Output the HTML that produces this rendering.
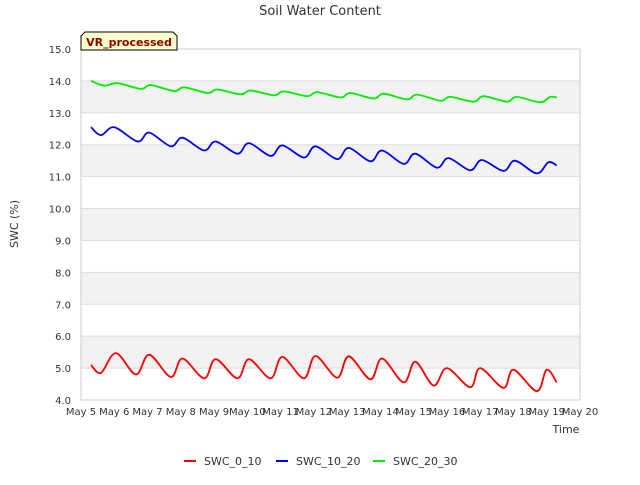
<!DOCTYPE html>
<html><head><meta charset="utf-8"><style>
body{margin:0;background:#fff;font-family:"Liberation Sans","DejaVu Sans",sans-serif}
svg text{font-family:"DejaVu Sans","Liberation Sans",sans-serif}
</style></head><body>
<svg id="c" width="640" height="480" xmlns="http://www.w3.org/2000/svg">
<text x="320" y="15" text-anchor="middle" font-size="13" fill="#333">Soil Water Content</text>
<g id="bands"></g><g id="axes"></g><g id="series"></g>
<text transform="translate(18,224) rotate(-90)" text-anchor="middle" font-size="11" fill="#333">SWC (%)</text>
<text x="566" y="433" text-anchor="middle" font-size="11" fill="#333">Time</text>
<g>
<path d="M81,50 L81,36 L85,32 L173,32 L177,36 L177,50 Z" fill="#ffffcc" stroke="#000" stroke-width="1"/>
<text x="129" y="46" text-anchor="middle" font-size="11" font-weight="bold" fill="#8b0000">VR_processed</text></g>
<g id="legend"></g>
</svg>
<script>
const yTicks=[4,5,6,7,8,9,10,11,12,13,14,15];
const xTicks=[5,6,7,8,9,10,11,12,13,14,15,16,17,18,19,20];
const seriesNames=["SWC_0_10","SWC_10_20","SWC_20_30"];
const seriesColors=["#ff0000","#0000ff","#00ee00"];
const days0=[5.3,5.6,6.05,6.65,7.05,7.7,8.05,8.7,9.05,9.7,10.05,10.7,11.05,11.7,12.05,12.7,13.05,13.7,14.05,14.7,15.05,15.6,16.0,16.7,17.0,17.7,18.0,18.7,19.0,19.3];
const vals0=[5.1,4.85,5.47,4.8,5.42,4.72,5.3,4.68,5.28,4.68,5.28,4.68,5.35,4.68,5.38,4.7,5.37,4.65,5.3,4.55,5.2,4.45,5.0,4.4,5.0,4.38,4.95,4.28,4.95,4.55];
const days1=[5.3,5.6,6.0,6.7,7.05,7.7,8.05,8.7,9.05,9.7,10.05,10.7,11.05,11.7,12.05,12.7,13.05,13.7,14.05,14.7,15.05,15.7,16.05,16.7,17.05,17.7,18.05,18.7,19.05,19.3];
const vals1=[12.55,12.3,12.55,12.1,12.38,11.95,12.22,11.82,12.1,11.72,12.05,11.65,11.98,11.6,11.95,11.55,11.9,11.48,11.82,11.4,11.72,11.28,11.58,11.2,11.52,11.18,11.5,11.1,11.45,11.35];
const days2=[5.3,5.7,6.1,6.8,7.1,7.8,8.1,8.8,9.1,9.8,10.1,10.8,11.1,11.8,12.1,12.8,13.1,13.8,14.1,14.8,15.1,15.8,16.1,16.8,17.1,17.8,18.1,18.8,19.1,19.3];
const vals2=[14.0,13.85,13.93,13.75,13.87,13.68,13.8,13.62,13.73,13.58,13.7,13.55,13.67,13.52,13.65,13.48,13.62,13.45,13.6,13.42,13.57,13.38,13.5,13.35,13.52,13.35,13.5,13.33,13.5,13.48];
const L=81,R=580,T=49,B=400;
const xs=d=>L+(d-5)/15*(R-L);
const ys=v=>B-(v-4)/11*(B-T);
const NS="http://www.w3.org/2000/svg";
function mk(tag,attrs,parent){const e=document.createElementNS(NS,tag);for(const k in attrs)e.setAttribute(k,attrs[k]);parent.appendChild(e);return e;}
const bands=document.getElementById('bands'),axes=document.getElementById('axes'),ser=document.getElementById('series'),leg=document.getElementById('legend');
for(let i=0;i<yTicks.length-1;i++){
  if(yTicks[i]%2===1){const r=mk('rect',{x:L,y:ys(yTicks[i+1]),width:R-L,height:ys(yTicks[i])-ys(yTicks[i+1]),fill:'#f2f2f2'},bands);
  
  }
}
yTicks.forEach(v=>{
  const l=mk('line',{x1:L,x2:R,y1:ys(v),y2:ys(v),stroke:'#dddddd'},axes);
  
  
  const t=mk('text',{x:L-10,y:ys(v)+4,'text-anchor':'end','font-size':'10',fill:'#333'},axes);
  t.textContent=v.toFixed(1);
  
  
});
mk('rect',{x:L,y:T,width:R-L,height:B-T,fill:'none',stroke:'#cccccc'},axes);
xTicks.forEach(d=>{
  const t=mk('text',{x:xs(d),y:B+15,'text-anchor':'middle','font-size':'10',fill:'#333'},axes);
  t.textContent='May '+d;
  
  
});
function smooth(P){
  let d='M'+P[0][0].toFixed(1)+','+P[0][1].toFixed(1);
  for(let i=0;i<P.length-1;i++){
    const p0=P[Math.max(i-1,0)],p1=P[i],p2=P[i+1],p3=P[Math.min(i+2,P.length-1)];
    const c1x=p1[0]+(p2[0]-p0[0])/6,c1y=p1[1]+(p2[1]-p0[1])/6;
    const c2x=p2[0]-(p3[0]-p1[0])/6,c2y=p2[1]-(p3[1]-p1[1])/6;
    d+=' C'+c1x.toFixed(1)+','+c1y.toFixed(1)+' '+c2x.toFixed(1)+','+c2y.toFixed(1)+' '+p2[0].toFixed(1)+','+p2[1].toFixed(1);
  }
  return d;
}
const D=[days0,days1,days2],V=[vals0,vals1,vals2];
for(let s=0;s<3;s++){
  const P=D[s].map((d,i)=>[xs(d),ys(V[s][i])]);
  const p=mk('path',{d:smooth(P),fill:'none',stroke:seriesColors[s],'stroke-width':'1.8','stroke-linejoin':'round'},ser);
  
  
}
const lx=[184,276,373];
for(let s=0;s<3;s++){
  const g=mk('g',{},leg);
  
  
  mk('line',{x1:lx[s],x2:lx[s]+12,y1:461,y2:461,stroke:seriesColors[s],'stroke-width':'2'},g);
  const t=mk('text',{x:lx[s]+20,y:465,'font-size':'11',fill:'#333'},g);
  t.textContent=seriesNames[s];
}
</script>
</body></html>
